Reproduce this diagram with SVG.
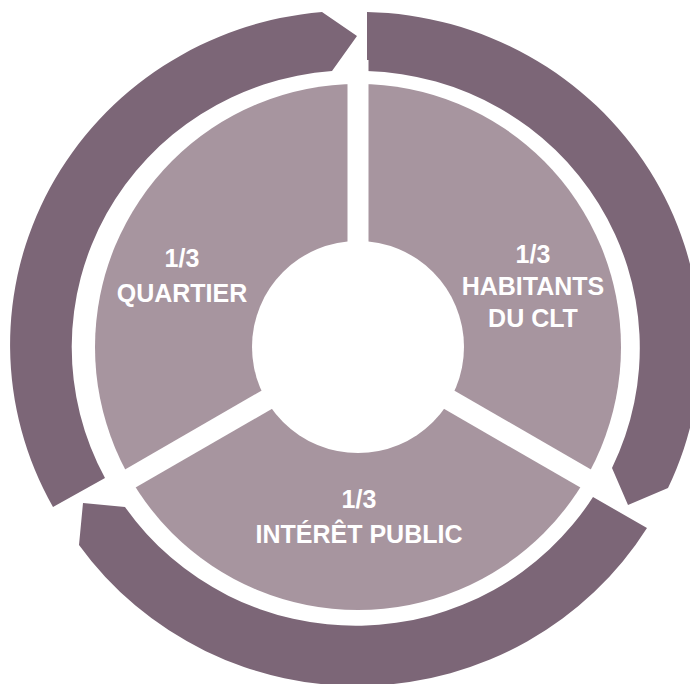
<svg xmlns="http://www.w3.org/2000/svg" width="690" height="684" viewBox="0 0 690 684">
  <style>
    .arrow { fill: #7c6677; }
    .seg { fill: #a7959f; }
    .div { stroke: #ffffff; stroke-width: 21; fill: none; }
    .lbl { fill: #ffffff; font-family: "Liberation Sans", Arial, sans-serif; font-weight: bold; font-size: 25px; text-anchor: middle; }
  </style>
  <rect width="690" height="684" fill="#ffffff"/>
  <g id="cycle-arrows">
    <path id="arrow-right" class="arrow" d="M 367,12 A 341,334 0 0 1 668,488 L 628,505 L 612,468 A 281,277 0 0 0 367,71 Z"/>
    <path id="arrow-bottom" class="arrow" d="M 647,528 A 341,334 0 0 1 79,545 L 83,503 L 125,507 A 281,277 0 0 0 593,497 Z"/>
    <path id="arrow-left" class="arrow" d="M 53,507 A 341,334 0 0 1 322,12 L 357,36 L 332,71 A 281,277 0 0 0 105,478 Z"/>
  </g>
  <g id="pie">
    <circle class="seg" cx="358" cy="347" r="263"/>
    <g id="dividers">
      <line class="div" x1="358" y1="347" x2="358" y2="60"/>
      <line class="div" x1="358" y1="347" x2="109.5" y2="490.5"/>
      <line class="div" x1="358" y1="347" x2="606.5" y2="490.5"/>
    </g>
    <circle id="center" cx="358" cy="347" r="106" fill="#ffffff"/>
  </g>
  <g id="quartier">
    <text class="lbl" x="182" y="267">1/3</text>
    <text class="lbl" x="182" y="302">QUARTIER</text>
  </g>
  <g id="habitants">
    <text class="lbl" x="533" y="263">1/3</text>
    <text class="lbl" x="533" y="295">HABITANTS</text>
    <text class="lbl" x="533" y="327">DU CLT</text>
  </g>
  <g id="interet-public">
    <text class="lbl" x="359" y="508">1/3</text>
    <text class="lbl" x="359" y="543">INTÉRÊT PUBLIC</text>
  </g>
</svg>
